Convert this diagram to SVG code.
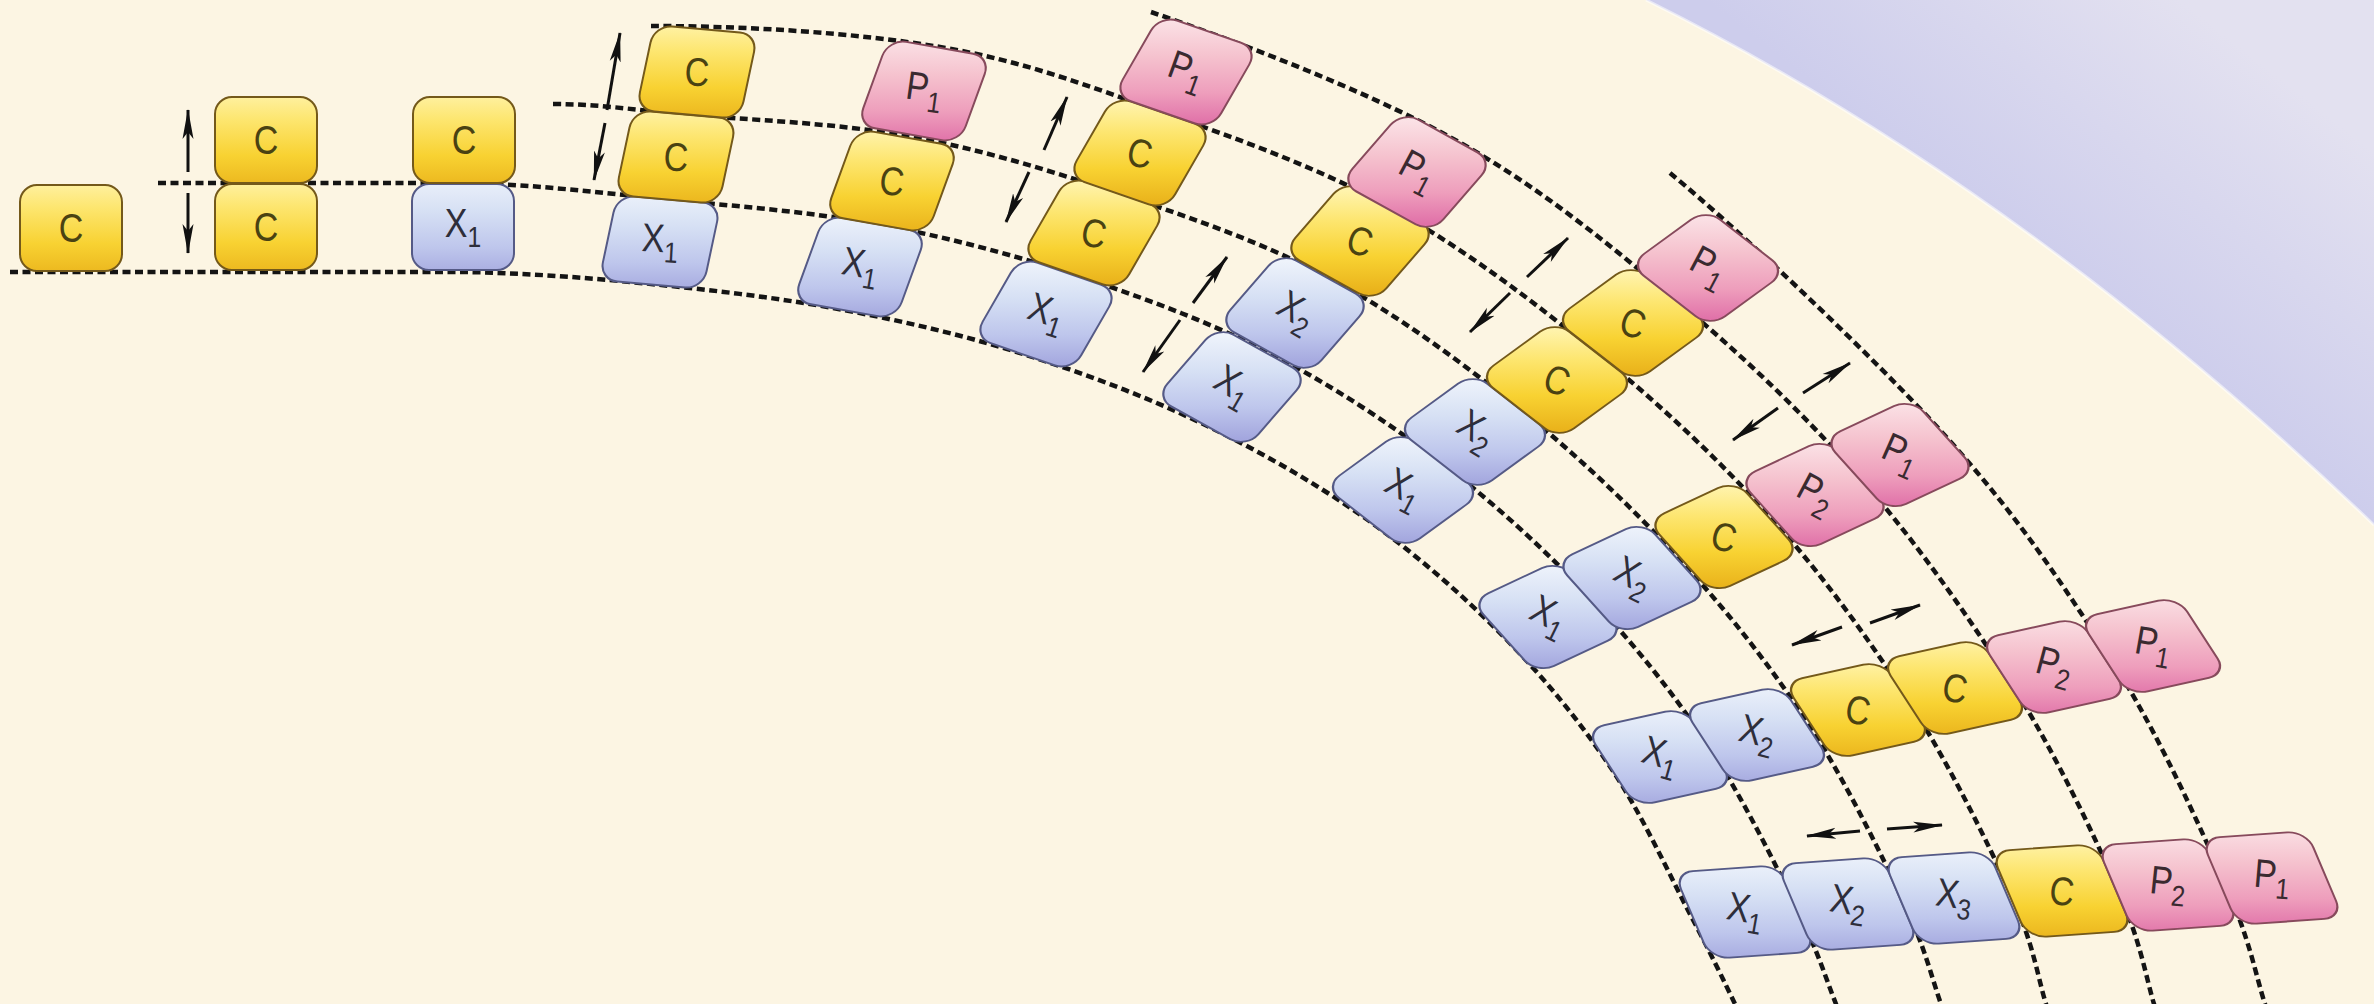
<svg xmlns="http://www.w3.org/2000/svg" width="2374" height="1004" viewBox="0 0 2374 1004">
<style>
.dash{fill:none;stroke:#141414;stroke-width:4.5;stroke-dasharray:8 4.5}
.arr{fill:none;stroke:#111;stroke-width:3;marker-end:url(#ah)}
.b{stroke-width:2}
.y{stroke:#74591a}
.x{stroke:#555a86}
.p{stroke:#874a5c}
text{font-family:"Liberation Sans",Arial,sans-serif;font-size:40px;text-anchor:middle}
.ty{fill:#4a4212}
.tx{fill:#2e2e3a}
.tp{fill:#3a2a30}
.sub{font-size:29px}
</style>
<defs>
<linearGradient id="lav" gradientUnits="userSpaceOnUse" x1="2000" y1="230" x2="2180" y2="0">
<stop offset="0" stop-color="#CDCDEC"/><stop offset="1" stop-color="#E3E1F0"/>
</linearGradient>
<linearGradient id="Y" gradientUnits="userSpaceOnUse" x1="0" y1="-52" x2="0" y2="52">
<stop offset="0" stop-color="#FFF4B0"/><stop offset="0.3" stop-color="#FDE670"/><stop offset="0.65" stop-color="#F8D232"/><stop offset="1" stop-color="#E9B11A"/>
</linearGradient>
<linearGradient id="B" gradientUnits="userSpaceOnUse" x1="0" y1="-52" x2="0" y2="52">
<stop offset="0" stop-color="#EEF3FB"/><stop offset="0.35" stop-color="#D6E0F4"/><stop offset="0.7" stop-color="#BEC6EC"/><stop offset="1" stop-color="#A3A6DE"/>
</linearGradient>
<linearGradient id="P" gradientUnits="userSpaceOnUse" x1="0" y1="-52" x2="0" y2="52">
<stop offset="0" stop-color="#FBE2E6"/><stop offset="0.35" stop-color="#F5C2CE"/><stop offset="0.7" stop-color="#EE9EBC"/><stop offset="1" stop-color="#E070A8"/>
</linearGradient>
<linearGradient id="Y4" href="#Y" gradientTransform="skewX(7) rotate(-5)"/>
<linearGradient id="B4" href="#B" gradientTransform="skewX(7) rotate(-5)"/>
<linearGradient id="Y5" href="#Y" gradientTransform="skewX(10) rotate(-10)"/>
<linearGradient id="B5" href="#B" gradientTransform="skewX(10) rotate(-10)"/>
<linearGradient id="P5" href="#P" gradientTransform="skewX(10) rotate(-10)"/>
<linearGradient id="Y6" href="#Y" gradientTransform="skewX(11) rotate(-19)"/>
<linearGradient id="B6" href="#B" gradientTransform="skewX(11) rotate(-19)"/>
<linearGradient id="P6" href="#P" gradientTransform="skewX(11) rotate(-19)"/>
<linearGradient id="Y7" href="#Y" gradientTransform="skewX(12) rotate(-29)"/>
<linearGradient id="B7" href="#B" gradientTransform="skewX(12) rotate(-29)"/>
<linearGradient id="P7" href="#P" gradientTransform="skewX(12) rotate(-29)"/>
<linearGradient id="Y8" href="#Y" gradientTransform="skewX(16) rotate(-38)"/>
<linearGradient id="B8" href="#B" gradientTransform="skewX(16) rotate(-38)"/>
<linearGradient id="P8" href="#P" gradientTransform="skewX(16) rotate(-38)"/>
<linearGradient id="Y9" href="#Y" gradientTransform="skewX(17) rotate(-48)"/>
<linearGradient id="B9" href="#B" gradientTransform="skewX(17) rotate(-48)"/>
<linearGradient id="P9" href="#P" gradientTransform="skewX(17) rotate(-48)"/>
<linearGradient id="Y10" href="#Y" gradientTransform="skewX(20.5) rotate(-57)"/>
<linearGradient id="B10" href="#B" gradientTransform="skewX(20.5) rotate(-57)"/>
<linearGradient id="P10" href="#P" gradientTransform="skewX(20.5) rotate(-57)"/>
<linearGradient id="Y11" href="#Y" gradientTransform="skewX(19) rotate(-67)"/>
<linearGradient id="B11" href="#B" gradientTransform="skewX(19) rotate(-67)"/>
<linearGradient id="P11" href="#P" gradientTransform="skewX(19) rotate(-67)"/>
<rect id="r1" x="-51" y="-43" width="102" height="86" rx="17"/>
<rect id="r4" x="-52" y="-43.15" width="104" height="86.3" rx="18" transform="rotate(5) skewX(-7)"/>
<rect id="r5" x="-52" y="-45.3" width="104" height="90.6" rx="18" transform="rotate(10) skewX(-10)"/>
<rect id="r6" x="-52" y="-45.65" width="104" height="91.3" rx="18" transform="rotate(19) skewX(-11)"/>
<rect id="r7" x="-52" y="-46.45" width="104" height="92.9" rx="18" transform="rotate(29) skewX(-12)"/>
<rect id="r8" x="-51" y="-45.65" width="102" height="91.3" rx="18" transform="rotate(38) skewX(-16)"/>
<rect id="r9" x="-49" y="-46.4" width="98" height="92.8" rx="18" transform="rotate(48) skewX(-17)"/>
<rect id="r10" x="-46" y="-47.3" width="92" height="94.6" rx="18" transform="rotate(57) skewX(-20.5)"/>
<rect id="r11" x="-47" y="-50" width="94" height="100" rx="18" transform="rotate(67) skewX(-19)"/>
<marker id="ah" viewBox="0 0 30 13" refX="29" refY="6.5" markerWidth="30" markerHeight="13" markerUnits="userSpaceOnUse" orient="auto"><path d="M0 1 L30 6.5 L0 12 L7 6.5 Z" fill="#111"/></marker>
</defs>

<rect width="2374" height="1004" fill="#FCF5E3"/>
<path d="M1646 0 Q2020 185 2374 525 L2374 0 Z" fill="url(#lav)"/>
<path d="M1646 0 Q2020 185 2374 525" fill="none" stroke="#FFFFFF" stroke-opacity="0.55" stroke-width="3"/>

<g id="guides" class="dash">
<path d="M10 272 L463 272 C526 273 587.5 277.7 651 284 S782 298.3 844 310 S963.5 335.2 1023 354 S1144 395.7 1201 423 S1314.5 482.3 1365 518 S1463 595.3 1504 637 S1579.8 721.5 1611 768 S1670.3 876.7 1691 916 S1724.3 981.7 1735 1004 L1752 1045"/>
<path d="M158 183 L463 183 C531 184 599.2 192.7 668 199.5 S809 211.7 876 224 S1005.4 252.5 1070 273.5 S1202 318.75 1263.5 350 S1384.6 419.75 1439 461 S1545.1 550 1590 597.5 S1674.1 694.3 1708.5 746 S1775.25 864.5 1796.5 907.5 S1826.75 981.1 1836 1004 L1852 1045"/>
<path d="M553 104 C597.5 104 627.3 109.2 686.5 114.5 S836.25 122.9 908 136 S1047.1 169.5 1117 193 S1261 241.5 1327.5 277 S1457.6 359.25 1516 406 S1629.4 504.75 1678 557.5 S1770 665.3 1807.5 722.5 S1880.75 853.6 1903 900.5 S1932.3 979.9 1941 1004 L1955 1045"/>
<path d="M651 26 C747 26 854.7 32.6 940 47 S1088.25 85.9 1163 112.5 S1316.5 166.7 1388.5 206.5 S1531.5 299.9 1595 351.5 S1717.4 458.1 1769.5 516 S1866.75 636 1907.5 699 S1988 843.2 2011 894 S2038 978.8 2046 1004 L2058 1045"/>
<path d="M1151 12 C1241 43 1361.4 88.75 1448 136 S1602.25 239 1670.5 295.5 S1801.3 411.3 1857.5 475 S1962.9 608.75 2007.5 677.5 S2093 833.1 2117 887.5 S2146 977.75 2154 1004 L2167 1045"/>
<path d="M1670 173 C1740 231 1870.8 354 1944 434.5 S2060.75 581.6 2109 656 S2198 823 2224 881 S2256 976.7 2265 1004 L2280 1045"/>
</g>

<g id="connectors">
<path class="arr" d="M188 172 L188 110"/>
<path class="arr" d="M188 193 L188 253"/>
<path class="arr" d="M607 110 L620 33"/>
<path class="arr" d="M605 123 L594 180"/>
<path class="arr" d="M1044 150 L1067 97"/>
<path class="arr" d="M1029 172 L1006 222"/>
<path class="arr" d="M1193 303 L1227 257"/>
<path class="arr" d="M1180 320 L1143 372"/>
<path class="arr" d="M1527 277 L1568 238"/>
<path class="arr" d="M1510 293 L1470 332"/>
<path class="arr" d="M1803 393 L1850 363"/>
<path class="arr" d="M1778 408 L1733 440"/>
<path class="arr" d="M1842 627 L1792 645"/>
<path class="arr" d="M1870 623 L1920 605"/>
<path class="arr" d="M1860 831 L1807 836"/>
<path class="arr" d="M1887 829 L1942 825"/>
</g>

<g id="s1-c" transform="translate(71 228)"><use href="#r1" class="b y" fill="url(#Y)"/><text class="ty" transform="scale(0.85 1)" y="14">C</text></g>

<g id="s2-c1" transform="translate(266 227)"><use href="#r1" class="b y" fill="url(#Y)"/><text class="ty" transform="scale(0.85 1)" y="14">C</text></g>
<g id="s2-c2" transform="translate(266 140)"><use href="#r1" class="b y" fill="url(#Y)"/><text class="ty" transform="scale(0.85 1)" y="14">C</text></g>

<g id="s3-x1" transform="translate(463 227)"><use href="#r1" class="b x" fill="url(#B)"/><text class="tx" transform="scale(0.85 1)" y="10">X<tspan class="sub" dy="10">1</tspan></text></g>
<g id="s3-c" transform="translate(464 140)"><use href="#r1" class="b y" fill="url(#Y)"/><text class="ty" transform="scale(0.85 1)" y="14">C</text></g>

<g id="s4-x1" transform="translate(660 242)"><use href="#r4" class="b x" fill="url(#B4)"/><text class="tx" transform="rotate(3) scale(0.85 1)" y="10">X<tspan class="sub" dy="10">1</tspan></text></g>
<g id="s4-c1" transform="translate(676 157)"><use href="#r4" class="b y" fill="url(#Y4)"/><text class="ty" transform="rotate(3) scale(0.85 1)" y="14">C</text></g>
<g id="s4-c2" transform="translate(697 72)"><use href="#r4" class="b y" fill="url(#Y4)"/><text class="ty" transform="rotate(3) scale(0.85 1)" y="14">C</text></g>

<g id="s5-x1" transform="translate(860 267)"><use href="#r5" class="b x" fill="url(#B5)"/><text class="tx" transform="rotate(10) scale(0.85 1)" y="10">X<tspan class="sub" dy="10">1</tspan></text></g>
<g id="s5-c" transform="translate(892 181)"><use href="#r5" class="b y" fill="url(#Y5)"/><text class="ty" transform="rotate(6) scale(0.85 1)" y="14">C</text></g>
<g id="s5-p1" transform="translate(924 91)"><use href="#r5" class="b p" fill="url(#P5)"/><text class="tp" transform="rotate(8) scale(0.85 1)" y="10">P<tspan class="sub" dy="10">1</tspan></text></g>

<g id="s6-x1" transform="translate(1046 314)"><use href="#r6" class="b x" fill="url(#B6)"/><text class="tx" transform="rotate(18) scale(0.85 1)" y="10">X<tspan class="sub" dy="10">1</tspan></text></g>
<g id="s6-c1" transform="translate(1094 233)"><use href="#r6" class="b y" fill="url(#Y6)"/><text class="ty" transform="rotate(12) scale(0.85 1)" y="14">C</text></g>
<g id="s6-c2" transform="translate(1140 153)"><use href="#r6" class="b y" fill="url(#Y6)"/><text class="ty" transform="rotate(12) scale(0.85 1)" y="14">C</text></g>
<g id="s6-p1" transform="translate(1186 72)"><use href="#r6" class="b p" fill="url(#P6)"/><text class="tp" transform="rotate(20) scale(0.85 1)" y="10">P<tspan class="sub" dy="10">1</tspan></text></g>

<g id="s7-x1" transform="translate(1232 387)"><use href="#r7" class="b x" fill="url(#B7)"/><text class="tx" transform="rotate(30) scale(0.85 1)" y="10">X<tspan class="sub" dy="10">1</tspan></text></g>
<g id="s7-x2" transform="translate(1295 313)"><use href="#r7" class="b x" fill="url(#B7)"/><text class="tx" transform="rotate(30) scale(0.85 1)" y="10">X<tspan class="sub" dy="10">2</tspan></text></g>
<g id="s7-c" transform="translate(1360 241)"><use href="#r7" class="b y" fill="url(#Y7)"/><text class="ty" transform="rotate(18) scale(0.85 1)" y="14">C</text></g>
<g id="s7-p1" transform="translate(1417 172)"><use href="#r7" class="b p" fill="url(#P7)"/><text class="tp" transform="rotate(28) scale(0.85 1)" y="10">P<tspan class="sub" dy="10">1</tspan></text></g>

<g id="s8-x1" transform="translate(1403 490)"><use href="#r8" class="b x" fill="url(#B8)"/><text class="tx" transform="rotate(28) scale(0.85 1)" y="10">X<tspan class="sub" dy="10">1</tspan></text></g>
<g id="s8-x2" transform="translate(1475 432)"><use href="#r8" class="b x" fill="url(#B8)"/><text class="tx" transform="rotate(32) scale(0.85 1)" y="10">X<tspan class="sub" dy="10">2</tspan></text></g>
<g id="s8-c1" transform="translate(1557 380)"><use href="#r8" class="b y" fill="url(#Y8)"/><text class="ty" transform="rotate(20) scale(0.85 1)" y="14">C</text></g>
<g id="s8-c2" transform="translate(1633 323)"><use href="#r8" class="b y" fill="url(#Y8)"/><text class="ty" transform="rotate(18) scale(0.85 1)" y="14">C</text></g>
<g id="s8-p1" transform="translate(1708 268)"><use href="#r8" class="b p" fill="url(#P8)"/><text class="tp" transform="rotate(28) scale(0.85 1)" y="10">P<tspan class="sub" dy="10">1</tspan></text></g>

<g id="s9-x1" transform="translate(1548 617)"><use href="#r9" class="b x" fill="url(#B9)"/><text class="tx" transform="rotate(26) scale(0.85 1)" y="10">X<tspan class="sub" dy="10">1</tspan></text></g>
<g id="s9-x2" transform="translate(1632 578)"><use href="#r9" class="b x" fill="url(#B9)"/><text class="tx" transform="rotate(26) scale(0.85 1)" y="10">X<tspan class="sub" dy="10">2</tspan></text></g>
<g id="s9-c" transform="translate(1724 537)"><use href="#r9" class="b y" fill="url(#Y9)"/><text class="ty" transform="rotate(15) scale(0.85 1)" y="14">C</text></g>
<g id="s9-p2" transform="translate(1815 495)"><use href="#r9" class="b p" fill="url(#P9)"/><text class="tp" transform="rotate(28) scale(0.85 1)" y="10">P<tspan class="sub" dy="10">2</tspan></text></g>
<g id="s9-p1" transform="translate(1900 455)"><use href="#r9" class="b p" fill="url(#P9)"/><text class="tp" transform="rotate(24) scale(0.85 1)" y="10">P<tspan class="sub" dy="10">1</tspan></text></g>

<g id="s10-x1" transform="translate(1660 757)"><use href="#r10" class="b x" fill="url(#B10)"/><text class="tx" transform="rotate(16) scale(0.85 1)" y="10">X<tspan class="sub" dy="10">1</tspan></text></g>
<g id="s10-x2" transform="translate(1757 735)"><use href="#r10" class="b x" fill="url(#B10)"/><text class="tx" transform="rotate(14) scale(0.85 1)" y="10">X<tspan class="sub" dy="10">2</tspan></text></g>
<g id="s10-c1" transform="translate(1858 710)"><use href="#r10" class="b y" fill="url(#Y10)"/><text class="ty" transform="rotate(10) scale(0.85 1)" y="14">C</text></g>
<g id="s10-c2" transform="translate(1955 688)"><use href="#r10" class="b y" fill="url(#Y10)"/><text class="ty" transform="rotate(10) scale(0.85 1)" y="14">C</text></g>
<g id="s10-p2" transform="translate(2054 667)"><use href="#r10" class="b p" fill="url(#P10)"/><text class="tp" transform="rotate(15) scale(0.85 1)" y="10">P<tspan class="sub" dy="10">2</tspan></text></g>
<g id="s10-p1" transform="translate(2153 646)"><use href="#r10" class="b p" fill="url(#P10)"/><text class="tp" transform="rotate(10) scale(0.85 1)" y="10">P<tspan class="sub" dy="10">1</tspan></text></g>

<g id="s11-x1" transform="translate(1745 912)"><use href="#r11" class="b x" fill="url(#B11)"/><text class="tx" transform="rotate(10) scale(0.85 1)" y="10">X<tspan class="sub" dy="10">1</tspan></text></g>
<g id="s11-x2" transform="translate(1848 904)"><use href="#r11" class="b x" fill="url(#B11)"/><text class="tx" transform="rotate(9) scale(0.85 1)" y="10">X<tspan class="sub" dy="10">2</tspan></text></g>
<g id="s11-x3" transform="translate(1954 898)"><use href="#r11" class="b x" fill="url(#B11)"/><text class="tx" transform="rotate(8) scale(0.85 1)" y="10">X<tspan class="sub" dy="10">3</tspan></text></g>
<g id="s11-c" transform="translate(2062 891)"><use href="#r11" class="b y" fill="url(#Y11)"/><text class="ty" transform="rotate(6) scale(0.85 1)" y="14">C</text></g>
<g id="s11-p2" transform="translate(2168 885)"><use href="#r11" class="b p" fill="url(#P11)"/><text class="tp" transform="rotate(6) scale(0.85 1)" y="10">P<tspan class="sub" dy="10">2</tspan></text></g>
<g id="s11-p1" transform="translate(2272 878)"><use href="#r11" class="b p" fill="url(#P11)"/><text class="tp" transform="rotate(5) scale(0.85 1)" y="10">P<tspan class="sub" dy="10">1</tspan></text></g>
</svg>
